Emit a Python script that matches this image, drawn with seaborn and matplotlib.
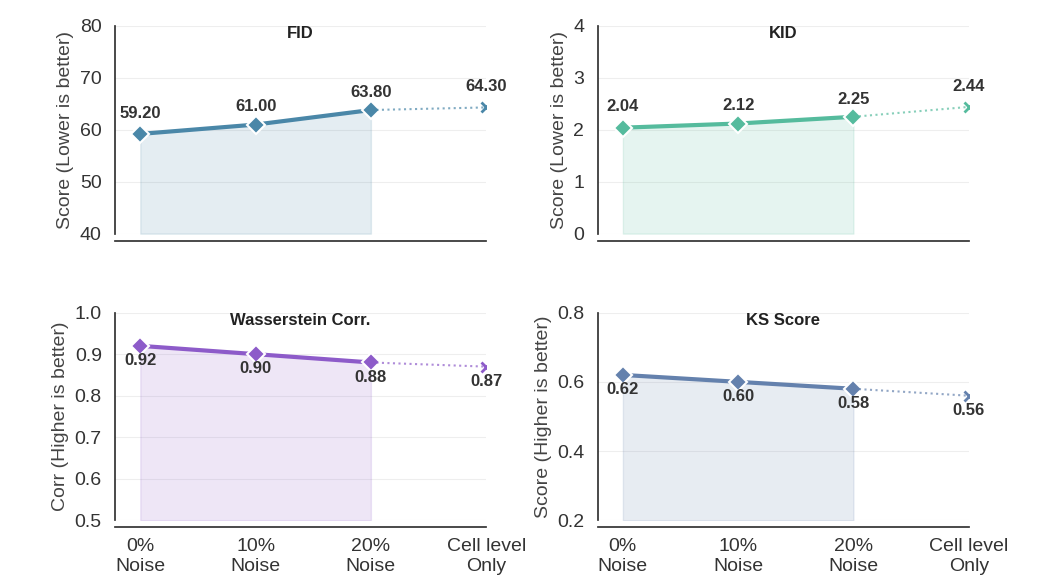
import matplotlib
matplotlib.use('Agg')
import matplotlib.pyplot as plt
import seaborn as sns
import pandas as pd

sns.set_theme(style='whitegrid')
plt.rcParams['font.family'] = ['Liberation Sans', 'DejaVu Sans']

# data
categories = ['0%\nNoise', '10%\nNoise', '20%\nNoise', 'Cell level\nOnly']
fid = [59.2, 61.0, 63.8, 64.3]
kid = [2.04, 2.12, 2.25, 2.44]
wass = [0.92, 0.90, 0.88, 0.87]
ks = [0.62, 0.60, 0.58, 0.56]

panels = [
    ('FID', fid, 'Score (Lower is better)', (40, 80), [40, 50, 60, 70, 80], '#4a87a8', '{:.2f}', 'above'),
    ('KID', kid, 'Score (Lower is better)', (0, 4), [0, 1, 2, 3, 4], '#55bb9d', '{:.2f}', 'above'),
    ('Wasserstein Corr.', wass, 'Corr (Higher is better)', (0.5, 1.0), [0.5, 0.6, 0.7, 0.8, 0.9, 1.0], '#8d5bc9', '{:.2f}', 'below'),
    ('KS Score', ks, 'Score (Higher is better)', (0.2, 0.8), [0.2, 0.4, 0.6, 0.8], '#6481ad', '{:.2f}', 'below'),
]

fig, axes = plt.subplots(2, 2, figsize=(10.45, 5.75), dpi=100)
plt.subplots_adjust(left=0.11, right=0.927, top=0.955, bottom=0.095, wspace=0.3, hspace=0.38)

for ax, (title, vals, ylabel, ylim, yticks, color, fmt, pos) in zip(axes.flat, panels):
    df = pd.DataFrame({'x': range(4), 'y': vals})
    main = df.iloc[:3]
    ax.fill_between(main['x'], ylim[0], main['y'], color=color, alpha=0.15)
    sns.lineplot(data=main, x='x', y='y', ax=ax, color=color, lw=3, marker='D',
                 markersize=9, markeredgecolor='white', markeredgewidth=1.5)
    sns.lineplot(data=df.iloc[2:], x='x', y='y', ax=ax, color=color, lw=1.5,
                 linestyle=':', alpha=0.7)
    ax.plot(3, vals[3], marker='x', color=color, markersize=7, mew=2, ls='none')
    span = ylim[1] - ylim[0]
    for i, v in enumerate(vals):
        dy = 0.07 * span if pos == 'above' else -0.07 * span
        if pos == 'above':
            dy = 0.1 * span if i in (0, 3) else 0.085 * span
        ax.text(i, v + dy, fmt.format(v), ha='center', va='center',
                fontsize=12, fontweight='bold', color='#333333')
    ax.set_ylim(*ylim)
    ax.set_yticks(yticks)
    ax.set_xlim(-0.22, 3)
    ax.set_xticks(range(4))
    ax.set_title(title, fontsize=12, fontweight='bold', y=0.9, color='#222222')
    ax.set_ylabel(ylabel, fontsize=14, color='#444444')
    ax.set_xlabel('')
    ax.grid(axis='x', visible=False)
    ax.grid(axis='y', color='#eeeeee', lw=0.8)
    ax.tick_params(axis='both', labelsize=14, colors='#333333')
    sns.despine(ax=ax, offset={'bottom': 5})
    ax.spines['left'].set_color('#333333')
    ax.spines['bottom'].set_color('#333333')
    ax.tick_params(axis='y', left=False)
    if ax in axes[1]:
        ax.set_xticklabels(categories)
    else:
        ax.set_xticklabels([])
    ax.tick_params(axis='x', bottom=False, pad=2)

fig.savefig('out.png', dpi=100, facecolor='white')
